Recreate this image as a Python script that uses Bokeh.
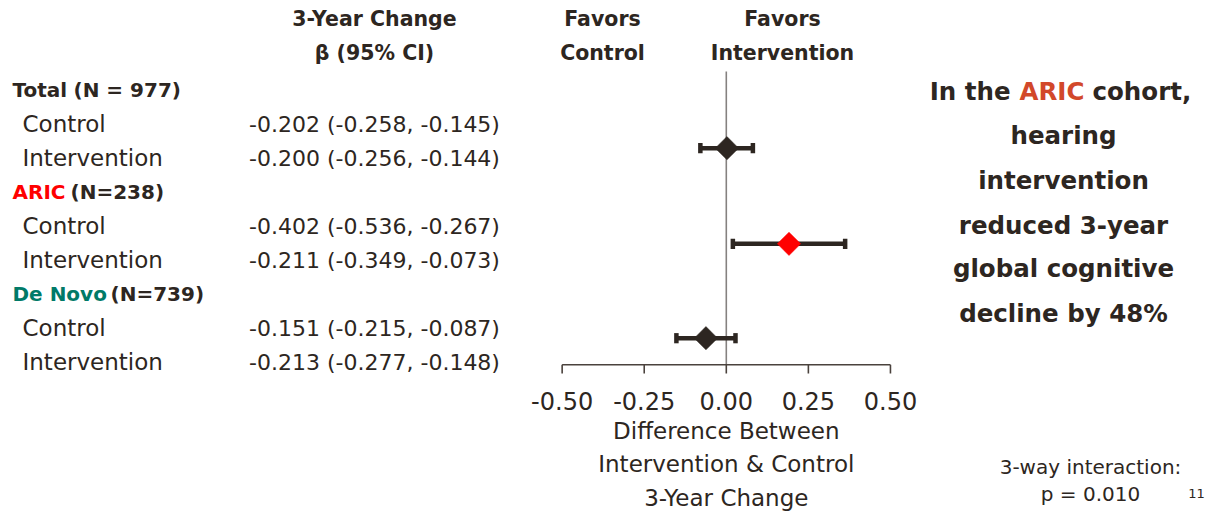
from bokeh.plotting import figure
from bokeh.models import Range1d, ColumnDataSource
from bokeh.core.properties import value
from bokeh.embed import file_html
from bokeh.resources import INLINE
import numpy as np

# ---------------- data ----------------
group_names = ["Total", "ARIC", "De Novo"]
group_ns = ["(N = 977)", "(N=238)", "(N=739)"]
group_colors = ["#2d2621", "#ff0000", "#007a68"]
arm_labels = ["Control", "Intervention"]

beta = [-0.202, -0.200, -0.402, -0.211, -0.151, -0.213]
beta_lo = [-0.258, -0.256, -0.536, -0.349, -0.215, -0.277]
beta_hi = [-0.145, -0.144, -0.267, -0.073, -0.087, -0.148]

diff_est = [0.002, 0.191, -0.062]
diff_lo = [-0.079, 0.020, -0.152]
diff_hi = [0.081, 0.362, 0.028]
diff_colors = ["#2d2621", "#ff0000", "#2d2621"]

x_ticks = [-0.50, -0.25, 0.00, 0.25, 0.50]
x_tick_labels = ["-0.50", "-0.25", "0.00", "0.25", "0.50"]
axis_title = ["Difference Between", "Intervention & Control", "3-Year Change"]

# ---------------- layout helpers ----------------
W, H = 1208, 512
OFF = 0
X0, SX = 725.8, 328.3      # figure px of x=0, px per unit
Y0, SY = 89.5, 34.0        # figure px of row 0, px per row

def X(ref_px):
    return (ref_px - OFF - X0) / SX

def Y(ref_py):
    return (ref_py - OFF - Y0) / SY

DARK = "#2d2621"
FONT = value("DejaVu Sans")

p = figure(width=W, height=H, output_backend="svg", toolbar_location=None,
           x_range=Range1d(-X0 / SX, (W - X0) / SX),
           y_range=Range1d((H - Y0) / SY, -Y0 / SY),
           x_axis_location=None, y_axis_location=None, min_border=0)
p.outline_line_color = None
p.xgrid.visible = False
p.ygrid.visible = False
p.background_fill_color = "white"
p.border_fill_color = "white"

def txt(x, y, s, size, color=DARK, bold=False, align="left"):
    p.text(x=[x], y=[y], text=[s], text_font=FONT, text_font_size=f"{size}px",
           text_font_style="bold" if bold else "normal", text_color=color,
           text_align=align, text_baseline="middle")

# ---------------- headers ----------------
txt(X(374), Y(18), "3-Year Change", 20.5, bold=True, align="center")
txt(X(374), Y(52), "β (95% CI)", 20.5, bold=True, align="center")
txt(X(602), Y(18), "Favors", 20.5, bold=True, align="center")
txt(X(602), Y(52), "Control", 20.5, bold=True, align="center")
txt(X(782), Y(18), "Favors", 20.5, bold=True, align="center")
txt(X(782), Y(52), "Intervention", 20.5, bold=True, align="center")

# ---------------- left table ----------------
n_start = [73, 70, 110]
label_x, label_y, label_t = [], [], []
val_x, val_y, val_t = [], [], []
for g in range(3):
    r = g * 3
    txt(X(12), r, group_names[g], 20, color=group_colors[g], bold=True)
    txt(X(n_start[g]), r, group_ns[g], 20, bold=True)
    for a in range(2):
        k = g * 2 + a
        label_x.append(X(22)); label_y.append(r + 1 + a); label_t.append(arm_labels[a])
        val_x.append(X(374)); val_y.append(r + 1 + a)
        val_t.append(f"{beta[k]:.3f} ({beta_lo[k]:.3f}, {beta_hi[k]:.3f})")

p.text(x=label_x, y=label_y, text=label_t, text_font=FONT, text_font_size="23px",
       text_color=DARK, text_align="left", text_baseline="middle")
p.text(x=val_x, y=val_y, text=val_t, text_font=FONT, text_font_size="22px",
       text_color=DARK, text_align="center", text_baseline="middle")

# ---------------- forest plot ----------------
axis_row = Y(364.3)
p.segment(x0=[0], y0=[Y(71)], x1=[0], y1=[axis_row], line_color="#858180", line_width=1.6)

diff_y = [Y(147.7), Y(243.3), Y(337.7)]
src = ColumnDataSource(dict(est=diff_est, lo=diff_lo, hi=diff_hi, y=diff_y,
                            c=diff_colors,
                            ytop=[v - 0.15 for v in diff_y],
                            ybot=[v + 0.15 for v in diff_y]))
p.segment(x0="lo", y0="y", x1="hi", y1="y", source=src, line_color=DARK,
          line_width=4.5, line_cap="butt")
p.segment(x0="lo", y0="ytop", x1="lo", y1="ybot", source=src, line_color=DARK,
          line_width=4.5, line_cap="butt")
p.segment(x0="hi", y0="ytop", x1="hi", y1="ybot", source=src, line_color=DARK,
          line_width=4.5, line_cap="butt")
p.scatter(x="est", y="y", source=src, marker="square", angle=np.pi / 4, size=16.5,
          fill_color="c", line_color="c", line_width=0.5)

# axis
p.segment(x0=[x_ticks[0]], y0=[axis_row], x1=[x_ticks[-1]], y1=[axis_row],
          line_color="#4a423d", line_width=1.6)
p.segment(x0=x_ticks, y0=[axis_row] * len(x_ticks), x1=x_ticks,
          y1=[Y(373)] * len(x_ticks), line_color="#4a423d", line_width=1.6)
p.text(x=x_ticks, y=[Y(400)] * len(x_ticks), text=x_tick_labels, text_font=FONT,
       text_font_size="24px", text_color=DARK, text_align="center", text_baseline="middle")
p.text(x=[0] * 3, y=[Y(430), Y(463), Y(497)], text=axis_title, text_font=FONT,
       text_font_size="23px", text_color=DARK, text_align="center", text_baseline="middle")

# ---------------- right message ----------------
ORANGE = "#d2482a"
txt(X(1010), Y(91), "In the", 24.5, bold=True, align="right")
txt(X(1051.5), Y(91), "ARIC", 24.5, color=ORANGE, bold=True, align="center")
txt(X(1092), Y(91), "cohort,", 24.5, bold=True, align="left")
msg = ["hearing", "intervention", "reduced 3-year", "global cognitive", "decline by 48%"]
msg_y = [135, 180, 225, 268, 313]
p.text(x=[X(1063)] * len(msg), y=[Y(v) for v in msg_y], text=msg, text_font=FONT,
       text_font_size="24.5px", text_font_style="bold", text_color=DARK,
       text_align="center", text_baseline="middle")

txt(X(1090), Y(466), "3-way interaction:", 20, align="center")
txt(X(1090), Y(493), "p = 0.010", 20, align="center")
txt(X(1196), Y(493), "11", 13, align="center")

open("out.html", "w").write(file_html(p, INLINE))
